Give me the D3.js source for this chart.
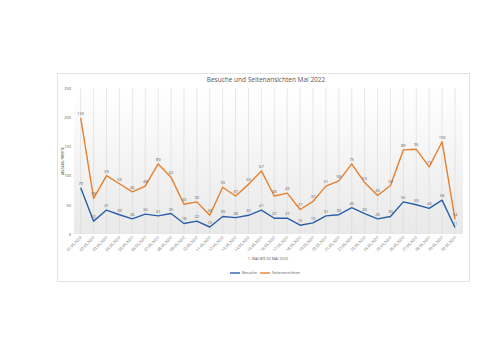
<!DOCTYPE html>
<html>
<head>
<meta charset="utf-8">
<script src="https://cdn.jsdelivr.net/npm/d3@7"></script>
<style>
  body { margin: 0; background: #fff; }
  svg { display: block; font-family: "Open Sans", Calibri, sans-serif; }
</style>
</head>
<body>
<div class="chart"></div>
<script>
// data
var dates = ['01.05.2022','02.05.2022','03.05.2022','04.05.2022','05.05.2022','06.05.2022','07.05.2022','08.05.2022','09.05.2022','10.05.2022',
  '11.05.2022','12.05.2022','13.05.2022','14.05.2022','15.05.2022','16.05.2022','17.05.2022','18.05.2022','19.05.2022','20.05.2022',
  '21.05.2022','22.05.2022','23.05.2022','24.05.2022','25.05.2022','26.05.2022','27.05.2022','28.05.2022','29.05.2022','30.05.2022'];
var besuche = [79, 22, 41, 33, 26, 34, 31, 35, 18, 22, 12, 30, 28, 32, 41, 27, 27, 15, 19, 31, 33, 45, 35, 26, 30, 55, 50, 44, 58, 11];
var seitenansichten = [120, 39, 59, 53, 46, 48, 89, 62, 33, 33, 20, 50, 37, 53, 67, 38, 43, 27, 37, 51, 58, 75, 53, 40, 53, 89, 95, 71, 100, 14];
var yTicks = [0, 50, 100, 150, 200, 250];

var blue = '#2a5fa8';
var orange = '#e5802e';

var svg = d3.select('.chart').append('svg')
  .attr('width', 500)
  .attr('height', 353);

svg.append('rect').attr('width', 500).attr('height', 353).attr('fill', '#fff');

// chart frame
svg.append('rect')
  .attr('x', 57.5).attr('y', 73.5)
  .attr('width', 412).attr('height', 208)
  .attr('fill', '#fff')
  .attr('stroke', '#e3e3e3')
  .attr('stroke-width', 1);

var x = d3.scalePoint().domain(dates).range([80.7, 455]);
var y = d3.scaleLinear().domain([0, 250]).range([234, 88]);

// plot background gradient
var grad = svg.append('defs').append('linearGradient')
  .attr('id', 'bg').attr('x1', 0).attr('y1', 0).attr('x2', 0).attr('y2', 1);
grad.append('stop').attr('offset', '0%').attr('stop-color', '#ffffff');
grad.append('stop').attr('offset', '100%').attr('stop-color', '#e9e9e9');

svg.append('rect')
  .attr('x', 74).attr('y', y(250))
  .attr('width', 389).attr('height', y(0) - y(250))
  .attr('fill', 'url(#bg)');

// vertical grid
svg.append('g').selectAll('line')
  .data(dates)
  .enter().append('line')
  .attr('x1', function(d){ return x(d); })
  .attr('x2', function(d){ return x(d); })
  .attr('y1', y(250))
  .attr('y2', y(0))
  .attr('stroke', '#d9d9d9')
  .attr('stroke-width', 0.6);

// y axis labels
var yAxis = svg.append('g')
  .attr('transform', 'translate(71,0)')
  .call(d3.axisLeft(y).tickValues(yTicks).tickSize(0).tickPadding(0));
yAxis.select('.domain').remove();
yAxis.selectAll('text')
  .attr('font-size', 4)
  .attr('fill', '#595959')
  .attr('font-family', '"Open Sans", sans-serif');

// x axis labels
var xAxis = svg.append('g')
  .attr('transform', 'translate(0,' + (y(0) + 3) + ')')
  .call(d3.axisBottom(x).tickSize(0).tickPadding(0));
xAxis.select('.domain').remove();
xAxis.selectAll('text')
  .attr('font-size', 3.8)
  .attr('fill', '#595959')
  .attr('font-family', '"Open Sans", sans-serif')
  .attr('text-anchor', 'end')
  .attr('dy', '0.3em')
  .attr('transform', 'rotate(-45)');

// stacked totals
var total = besuche.map(function(v, i){ return v + seitenansichten[i]; });

var line = d3.line()
  .x(function(d, i){ return x(dates[i]); })
  .y(function(d){ return y(d); });

svg.append('path')
  .datum(besuche)
  .attr('d', line)
  .attr('fill', 'none')
  .attr('stroke', blue)
  .attr('stroke-width', 1.4)
  .attr('stroke-linejoin', 'round');

svg.append('path')
  .datum(total)
  .attr('d', line)
  .attr('fill', 'none')
  .attr('stroke', orange)
  .attr('stroke-width', 1.4)
  .attr('stroke-linejoin', 'round');

// data labels
svg.append('g').selectAll('text')
  .data(besuche)
  .enter().append('text')
  .attr('x', function(d, i){ return x(dates[i]); })
  .attr('y', function(d){ return y(d) - 3; })
  .attr('text-anchor', 'middle')
  .attr('font-size', 4)
  .attr('fill', '#595959')
  .text(function(d){ return d; });

svg.append('g').selectAll('text')
  .data(seitenansichten)
  .enter().append('text')
  .attr('x', function(d, i){ return x(dates[i]); })
  .attr('y', function(d, i){ return y(total[i]) - 3; })
  .attr('text-anchor', 'middle')
  .attr('font-size', 4)
  .attr('fill', '#595959')
  .text(function(d){ return d; });

// title
svg.append('text')
  .attr('x', 266).attr('y', 82)
  .attr('text-anchor', 'middle')
  .attr('font-size', 6.5)
  .attr('fill', '#595959')
  .text('Besuche und Seitenansichten Mai 2022');

// axis titles
svg.append('text')
  .attr('transform', 'translate(64,161) rotate(-90)')
  .attr('text-anchor', 'middle')
  .attr('font-size', 3.8)
  .attr('fill', '#595959')
  .text('ANZAHL/WERTE');

svg.append('text')
  .attr('x', 268).attr('y', 260)
  .attr('text-anchor', 'middle')
  .attr('font-size', 3.8)
  .attr('fill', '#595959')
  .text('1. MAI BIS 30 MAI 2022');

// legend
var legend = svg.append('g').attr('transform', 'translate(230,273)');
var items = [['Besuche', blue, 0], ['Seitenansichten', orange, 30]];
items.forEach(function(it){
  legend.append('line')
    .attr('x1', it[2]).attr('x2', it[2] + 10)
    .attr('y1', 0).attr('y2', 0)
    .attr('stroke', it[1])
    .attr('stroke-width', 1.4);
  legend.append('text')
    .attr('x', it[2] + 12).attr('y', 1.3)
    .attr('font-size', 3.8)
    .attr('fill', '#595959')
    .text(it[0]);
});
</script>
</body>
</html>
